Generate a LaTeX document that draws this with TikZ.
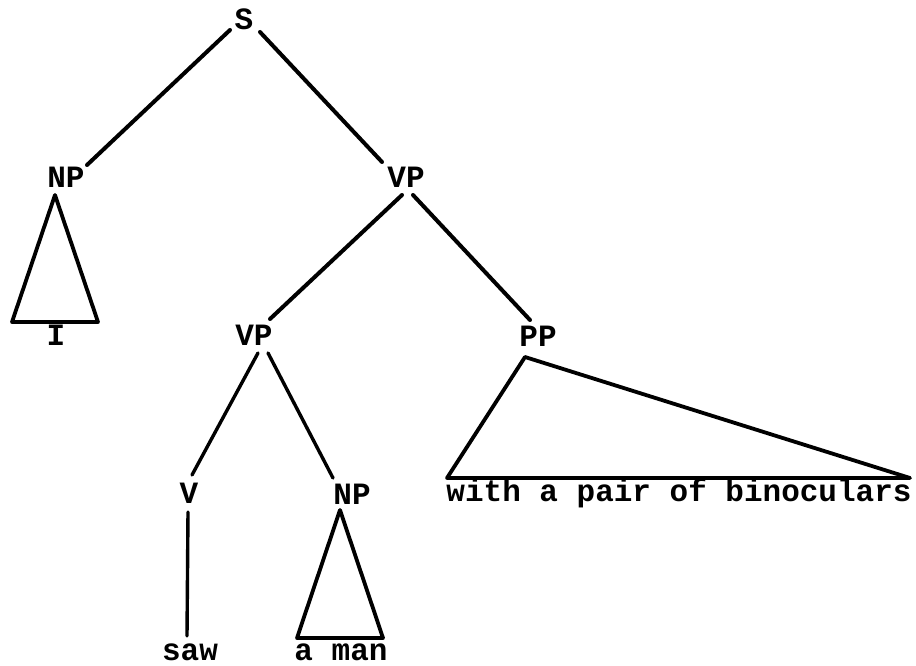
\documentclass[tikz,border=0pt]{standalone}
\usepackage{fontspec}
\newfontfamily\tw{Liberation Mono}
\begin{document}
\begin{tikzpicture}[x=1pt,y=-1pt,
  lbl/.style={inner sep=0pt,anchor=base,font=\tw\bfseries\fontsize{31}{36}\selectfont},
  edge/.style={line width=4pt,line cap=round,line join=round},
  tri/.style={line width=3.8pt,line cap=round,line join=round}]
\useasboundingbox[fill=white] (0,0) rectangle (916,666);
% labels
\node[lbl] (S)   at (244,30)  {S};
\node[lbl] (NPa) at (66,188)  {NP};
\node[lbl] (VPa) at (406,188) {VP};
\node[lbl] (I)   at (56,345)  {I};
\node[lbl] (VPb) at (254,345) {VP};
\node[lbl] (PP)  at (538,346) {PP};
\node[lbl] (V)   at (189,503) {V};
\node[lbl] (NPb) at (352,504) {NP};
\node[lbl] (bin) at (679,501) {with a pair of binoculars};
\node[lbl] (saw) at (190,660) {saw};
\node[lbl] (man) at (341,660) {a man};
% connector ends
\coordinate (s-l) at (230,30);  \coordinate (npa-t) at (87,165);
\coordinate (s-r) at (260,32);  \coordinate (vpa-t) at (382,162);
\coordinate (vpa-l) at (402,195); \coordinate (vpb-t) at (270,319);
\coordinate (vpa-r) at (413,195); \coordinate (pp-t) at (530,320);
\coordinate (vpb-l) at (258,353); \coordinate (v-t) at (192,475);
\coordinate (vpb-r) at (268,353); \coordinate (npb-t) at (333,478);
\coordinate (v-b) at (188,512);   \coordinate (saw-t) at (187,636);
% triangle corners
\coordinate (ta1) at (55,195);  \coordinate (ta2) at (12,322);  \coordinate (ta3) at (98,322);
\coordinate (tb1) at (340,510); \coordinate (tb2) at (297,638); \coordinate (tb3) at (383,638);
\coordinate (tc1) at (525,357); \coordinate (tc2) at (447,478); \coordinate (tc3) at (910,478);
% edges
\draw[edge] (s-l) -- (npa-t);
\draw[edge] (s-r) -- (vpa-t);
\draw[edge] (vpa-l) -- (vpb-t);
\draw[edge] (vpa-r) -- (pp-t);
\draw[edge,line width=3.4pt] (vpb-l) -- (v-t);
\draw[edge,line width=3.4pt] (vpb-r) -- (npb-t);
\draw[edge,line width=3.4pt] (v-b) -- (saw-t);
% triangles
\draw[tri] (ta1) -- (ta2) -- (ta3) -- cycle;
\draw[tri] (tb1) -- (tb2) -- (tb3) -- cycle;
\draw[tri] (tc1) -- (tc2) -- (tc3) -- cycle;
\end{tikzpicture}
\end{document}
